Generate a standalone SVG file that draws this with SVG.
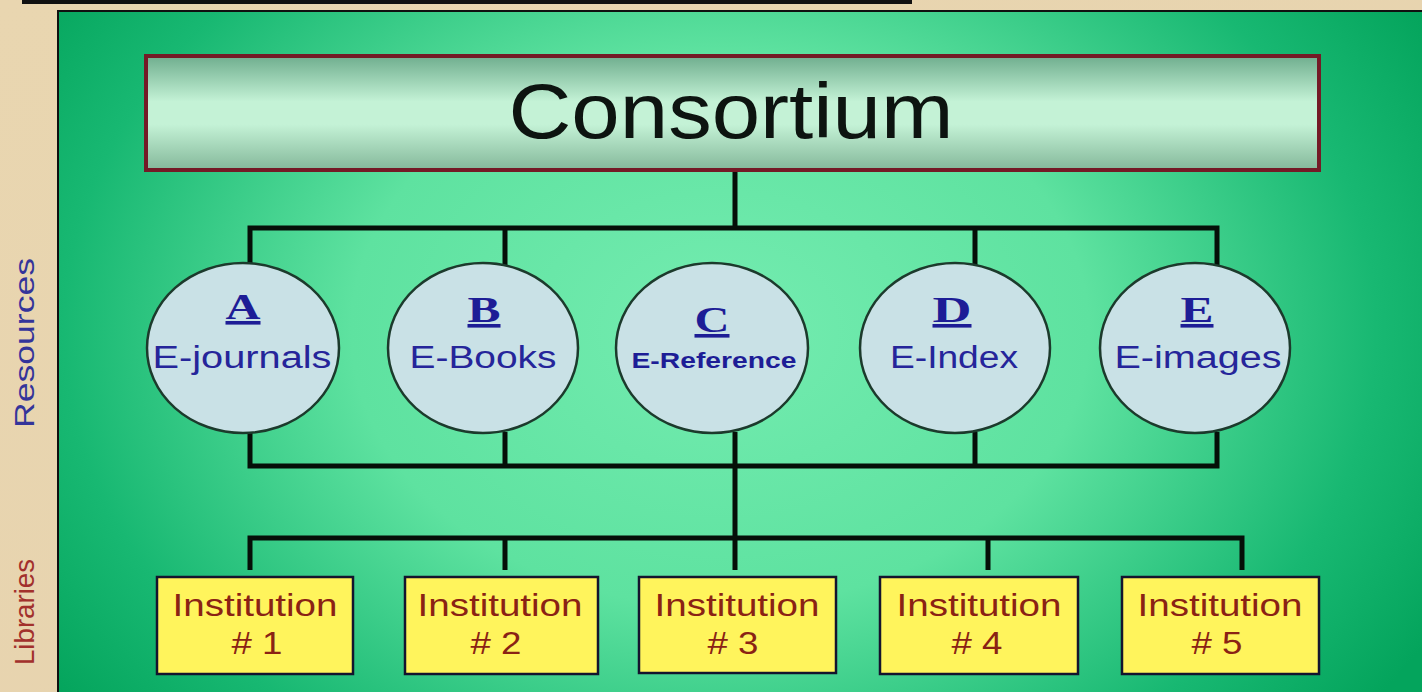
<svg xmlns="http://www.w3.org/2000/svg" width="1422" height="692" viewBox="0 0 1422 692">
<defs>
<radialGradient id="panel" cx="720" cy="330" r="820" gradientUnits="userSpaceOnUse" gradientTransform="translate(720 330) scale(1 0.75) translate(-720 -330)">
<stop offset="0" stop-color="#74ecb0"/>
<stop offset="0.45" stop-color="#5ee2a0"/>
<stop offset="0.8" stop-color="#18b872"/>
<stop offset="1" stop-color="#04a45c"/>
</radialGradient>
<linearGradient id="cons" x1="0" y1="0" x2="0" y2="1">
<stop offset="0" stop-color="#6fae8e"/>
<stop offset="0.4" stop-color="#c4f2d6"/>
<stop offset="0.6" stop-color="#c4f2d6"/>
<stop offset="1" stop-color="#84b89a"/>
</linearGradient>
<linearGradient id="parch" x1="0" y1="0" x2="1" y2="1">
<stop offset="0" stop-color="#e9d6b0"/>
<stop offset="1" stop-color="#e6d2ae"/>
</linearGradient>
</defs>
<style>
.res ellipse{fill:#c9e1e6;stroke:#1c3a2c;stroke-width:2.5}
.res .l{font-family:"Liberation Serif",serif;font-weight:bold;font-size:36px;fill:#1d1d96;text-anchor:middle;text-decoration:underline}
.res .t{font-family:"Liberation Sans",Arial,sans-serif;font-size:31px;fill:#25259a;text-anchor:middle}
.res .s{font-family:"Liberation Sans",Arial,sans-serif;font-size:22px;font-weight:bold;fill:#1d1d96;text-anchor:middle}
.inst rect{fill:#fff45c;stroke:#14142e;stroke-width:2.5}
.inst text{font-family:"Liberation Sans",Arial,sans-serif;font-size:31px;fill:#8a2214;text-anchor:middle}
#connectors path{fill:none;stroke:#050f08;stroke-width:5;stroke-linejoin:miter}
.side{font-family:"Liberation Sans",Arial,sans-serif;font-size:28px;text-anchor:middle}
</style>
<rect x="0" y="0" width="1422" height="692" fill="url(#parch)"/>
<rect x="22" y="0" width="890" height="4" fill="#111"/>
<rect x="58" y="11" width="1370" height="690" fill="url(#panel)" stroke="#101010" stroke-width="2"/>
<text class="side" fill="#34349a" transform="translate(34 343) rotate(-90)" textLength="170" lengthAdjust="spacingAndGlyphs">Resources</text>
<text class="side" fill="#a2302c" transform="translate(34 612) rotate(-90)" textLength="106" lengthAdjust="spacingAndGlyphs">Libraries</text>
<g id="connectors">
<path d="M735 170V228M250 265V228H1217V265M505 228V265M975 228V265"/>
<path d="M250 432V466H1217V432M505 432V466M735 432V538M975 432V466"/>
<path d="M250 570V538H1242V570M505 538V570M988 538V570M735 538V570"/>
</g>
<g id="consortium">
<rect x="146" y="56" width="1173" height="114" fill="url(#cons)" stroke="#741a26" stroke-width="4"/>
<text x="731" y="138" font-family="Liberation Sans,Arial,sans-serif" font-size="78" fill="#0d1410" text-anchor="middle" textLength="445" lengthAdjust="spacingAndGlyphs">Consortium</text>
</g>
<g id="resA" class="res"><ellipse cx="243" cy="348" rx="96" ry="85"/><text class="l" x="243" y="319" textLength="35" lengthAdjust="spacingAndGlyphs">A</text><text class="t" x="242" y="368" textLength="179" lengthAdjust="spacingAndGlyphs">E-journals</text></g>
<g id="resB" class="res"><ellipse cx="483" cy="348" rx="95" ry="85"/><text class="l" x="484" y="322" textLength="33" lengthAdjust="spacingAndGlyphs">B</text><text class="t" x="483" y="368" textLength="147" lengthAdjust="spacingAndGlyphs">E-Books</text></g>
<g id="resC" class="res"><ellipse cx="712" cy="348" rx="96" ry="85"/><text class="l" x="712" y="332" textLength="35" lengthAdjust="spacingAndGlyphs">C</text><text class="s" x="714" y="368" textLength="165" lengthAdjust="spacingAndGlyphs">E-Reference</text></g>
<g id="resD" class="res"><ellipse cx="955" cy="348" rx="95" ry="85"/><text class="l" x="952" y="322" textLength="39" lengthAdjust="spacingAndGlyphs">D</text><text class="t" x="954" y="368" textLength="128" lengthAdjust="spacingAndGlyphs">E-Index</text></g>
<g id="resE" class="res"><ellipse cx="1195" cy="348" rx="95" ry="85"/><text class="l" x="1197" y="322" textLength="33" lengthAdjust="spacingAndGlyphs">E</text><text class="t" x="1198" y="368" textLength="167" lengthAdjust="spacingAndGlyphs">E-images</text></g>
<g id="inst1" class="inst"><rect x="157" y="577" width="196" height="97"/><text x="255" y="616" textLength="165" lengthAdjust="spacingAndGlyphs">Institution</text><text x="257" y="654" textLength="51" lengthAdjust="spacingAndGlyphs"># 1</text></g>
<g id="inst2" class="inst"><rect x="405" y="577" width="193" height="97"/><text x="500" y="616" textLength="165" lengthAdjust="spacingAndGlyphs">Institution</text><text x="496" y="654" textLength="51" lengthAdjust="spacingAndGlyphs"># 2</text></g>
<g id="inst3" class="inst"><rect x="639" y="577" width="197" height="96"/><text x="737" y="616" textLength="165" lengthAdjust="spacingAndGlyphs">Institution</text><text x="733" y="654" textLength="51" lengthAdjust="spacingAndGlyphs"># 3</text></g>
<g id="inst4" class="inst"><rect x="880" y="577" width="198" height="97"/><text x="979" y="616" textLength="165" lengthAdjust="spacingAndGlyphs">Institution</text><text x="977" y="654" textLength="51" lengthAdjust="spacingAndGlyphs"># 4</text></g>
<g id="inst5" class="inst"><rect x="1122" y="577" width="197" height="97"/><text x="1220" y="616" textLength="165" lengthAdjust="spacingAndGlyphs">Institution</text><text x="1217" y="654" textLength="51" lengthAdjust="spacingAndGlyphs"># 5</text></g>
</svg>
